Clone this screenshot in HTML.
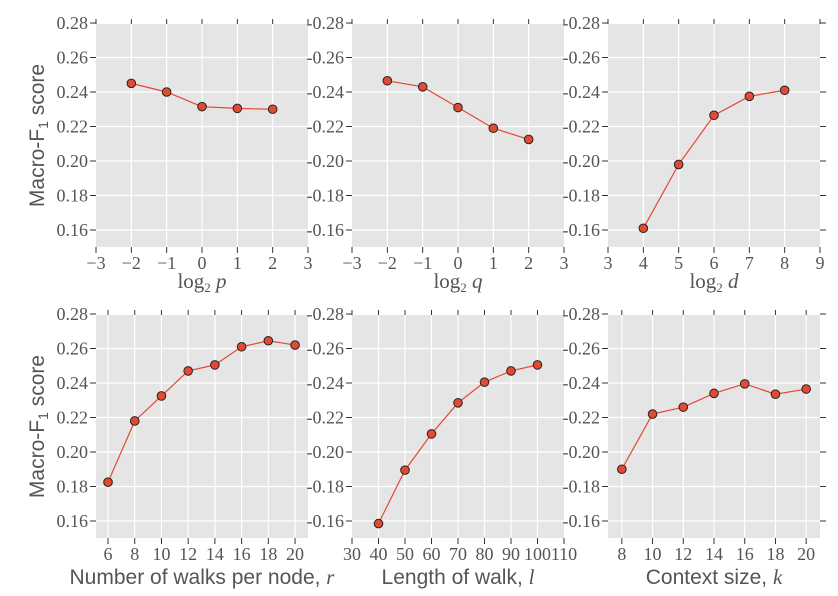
<!DOCTYPE html>
<html><head><meta charset="utf-8"><style>body{margin:0;background:#fff}svg{display:block}</style></head>
<body>
<svg id="s" width="838" height="596" xmlns="http://www.w3.org/2000/svg"></svg>
<script>
const s=document.getElementById('s');let h='';
const panels=[
 {x0:96,y0:24,y1:247,ylab0:23,xmin:-3,xmax:3,xt:[-3,-2,-1,0,1,2,3],xs:[-2,-1,0,1,2],ys:[0.245,0.240,0.2315,0.2305,0.230],xl:'log<tspan font-size="13" dy="4">2</tspan><tspan dy="-4" font-style="italic"> p</tspan>',serifx:true,yl:true},
 {x0:352,y0:24,y1:247,ylab0:23,xmin:-3,xmax:3,xt:[-3,-2,-1,0,1,2,3],xs:[-2,-1,0,1,2],ys:[0.2465,0.243,0.231,0.219,0.2125],xl:'log<tspan font-size="13" dy="4">2</tspan><tspan dy="-4" font-style="italic"> q</tspan>',serifx:true},
 {x0:608,y0:24,y1:247,ylab0:23,xmin:3,xmax:9,xt:[3,4,5,6,7,8,9],xs:[4,5,6,7,8],ys:[0.161,0.198,0.2265,0.2375,0.241],xl:'log<tspan font-size="13" dy="4">2</tspan><tspan dy="-4" font-style="italic"> d</tspan>',serifx:true,right:true},
 {x0:96,y0:315,y1:538,ylab0:314,xmin:5.1,xmax:20.97,xt:[6,8,10,12,14,16,18,20],xs:[6,8,10,12,14,16,18,20],ys:[0.1825,0.218,0.2325,0.247,0.2505,0.261,0.2645,0.262],xl:'Number of walks per node, <tspan font-family="Liberation Serif" font-style="italic">r</tspan>',yl:true},
 {x0:352,y0:315,y1:538,ylab0:314,xmin:30,xmax:110,xt:[30,40,50,60,70,80,90,100,110],xs:[40,50,60,70,80,90,100],ys:[0.1585,0.1895,0.2105,0.2285,0.2405,0.247,0.2505],xl:'Length of walk, <tspan font-family="Liberation Serif" font-style="italic">l</tspan>'},
 {x0:608,y0:315,y1:538,ylab0:314,xmin:7.1,xmax:20.9,xt:[8,10,12,14,16,18,20],xs:[8,10,12,14,16,18,20],ys:[0.19,0.222,0.226,0.234,0.2395,0.2335,0.2365],xl:'Context size, <tspan font-family="Liberation Serif" font-style="italic">k</tspan>',right:true}
];
const W=212,step=34.5;
panels.forEach((p,i)=>{
 const X=v=>p.x0+(v-p.xmin)/(p.xmax-p.xmin)*W;
 const Y=v=>p.ylab0+(0.28-v)/0.02*step;
 h+=`<rect x="${p.x0}" y="${p.y0}" width="${W}" height="${p.y1-p.y0}" fill="#e5e5e5"/>`;
 [0.16,0.18,0.20,0.22,0.24,0.26,0.28].forEach(v=>{const y=Y(v);
  if(y>p.y0)h+=`<line x1="${p.x0}" x2="${p.x0+W}" y1="${y}" y2="${y}" stroke="#fff" stroke-width="1.2"/>`;
  h+=`<line x1="${p.x0-6}" x2="${p.x0}" y1="${y}" y2="${y}" stroke="#333"/>`;
  if(p.right)h+=`<line x1="${p.x0+W}" x2="${p.x0+W+6}" y1="${y}" y2="${y}" stroke="#333"/>`;
  h+=`<text x="${p.x0-8}" y="${y+6}" text-anchor="end" font-family="Liberation Serif" font-size="18" fill="#555">${(i%3?'-':'')+v.toFixed(2)}</text>`;});
 p.xt.forEach(v=>{const x=X(v);
  if(x>p.x0+1&&x<p.x0+W-1)h+=`<line x1="${x}" x2="${x}" y1="${p.y0}" y2="${p.y1}" stroke="#fff" stroke-width="1.2"/>`;
  h+=`<line x1="${x}" x2="${x}" y1="${p.y1}" y2="${p.y1+6}" stroke="#333"/><line x1="${x}" x2="${x}" y1="${p.y0-5}" y2="${p.y0}" stroke="#333"/>`;
  h+=`<text x="${x}" y="${p.y1+22}" text-anchor="middle" font-family="Liberation Serif" font-size="18" fill="#555">${v<0?'\u2212'+(-v):v}</text>`;});
 h+=`<polyline fill="none" stroke="#e24a33" stroke-width="1.2" points="${p.xs.map((x,j)=>X(x)+','+Y(p.ys[j])).join(' ')}"/>`;
 p.xs.forEach((x,j)=>h+=`<circle cx="${X(x)}" cy="${Y(p.ys[j])}" r="4.3" fill="#e24a33" stroke="#222" stroke-width="1"/>`);
 if(p.serifx)h+=`<text x="${p.x0+W/2}" y="${p.y1+41}" text-anchor="middle" font-family="Liberation Serif" font-size="21" fill="#555">${p.xl}</text>`;
 else h+=`<text x="${p.x0+W/2}" y="${p.y1+46}" text-anchor="middle" font-family="Liberation Sans" font-size="21" fill="#555">${p.xl}</text>`;
 if(p.yl){const cy=(p.y0+p.y1)/2;h+=`<text transform="translate(44,${cy}) rotate(-90)" text-anchor="middle" font-family="Liberation Sans" font-size="21" fill="#555">Macro-F<tspan font-size="14" dy="4">1</tspan><tspan dy="-4"> score</tspan></text>`;}
});
s.innerHTML=h;
</script>
</body></html>
